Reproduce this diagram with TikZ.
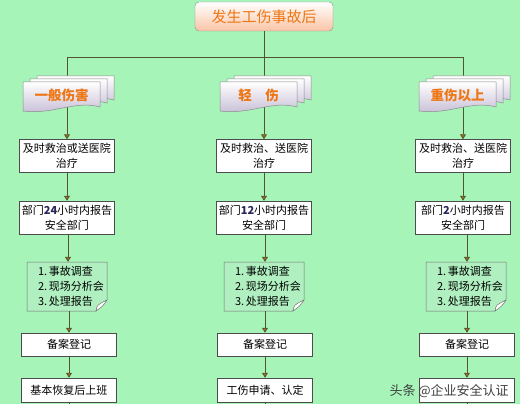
\documentclass[tikz,border=0pt]{standalone}
\usepackage{fontspec}
\newfontfamily\cjk{Noto Sans CJK SC}
\usetikzlibrary{arrows.meta}
\definecolor{bg}{RGB}{166,244,184}
\definecolor{ln}{RGB}{85,85,45}
\definecolor{tipc}{RGB}{160,110,30}
\definecolor{otxt}{RGB}{238,118,20}
\definecolor{peach}{RGB}{250,196,165}
\definecolor{lav}{RGB}{196,186,212}
\definecolor{notefill}{RGB}{176,240,192}
\definecolor{numc}{RGB}{40,40,90}
\newcommand\catpage[4]{% xl, xr, yt, yb
  \path[page] (#1,#3) -- (#2,#3) -- (#2,#4-4) .. controls (#2-25,#4-11) and (#1+30,#4+4) .. (#1,#4) -- cycle;}
\begin{document}
\begin{tikzpicture}[x=1pt,y=-1pt,
  conn/.style={draw=ln,line width=0.8pt},
  arr/.style={conn,-{Triangle[width=6pt,length=5pt,fill=tipc]}},
  box/.style={draw=black!70,fill=white,line width=0.5pt,minimum width=95pt,minimum height=33pt,align=center,inner sep=1pt,font=\cjk\fontsize{11}{15}\selectfont},
  sbox/.style={box,minimum height=24pt},
  notetxt/.style={minimum width=80pt,minimum height=49pt,align=left,inner sep=0pt,font=\cjk\fontsize{11}{15}\selectfont},
  page/.style={draw=black!45,line width=0.5pt,top color=white,bottom color=lav},
  cattxt/.style={text=otxt,font=\cjk\bfseries\fontsize{13.5}{15}\selectfont,inner sep=0pt,minimum width=77pt,minimum height=26pt}
]
\useasboundingbox (0,0) rectangle (520,404);
\fill[bg] (0,0) rectangle (520,404);

% top box
\node[draw=black!45,rounded corners=4pt,top color=white,bottom color=peach,minimum width=138pt,minimum height=29pt,text=otxt,font=\cjk\fontsize{15}{17}\selectfont] (top) at (264,16.5) {发生工伤事故后};

\coordinate (jc) at (264,57);
\coordinate (jl) at (67,57);
\coordinate (jr) at (463,57);
\draw[conn] (top.south) -- (jc);
\draw[conn] (jl) -- (jr);

% category boxes (three pages each)
\foreach \cx/\nm/\tx in {67/catl/{一般伤害},264/catm/{轻\hspace{1em}伤},463/catr/{重伤以上}}{
  \draw[conn] (\cx,57) -- (\cx,120);
  \catpage{\cx-30}{\cx+47}{76}{104}
  \catpage{\cx-37}{\cx+40}{79}{107}
  \catpage{\cx-44}{\cx+33}{82}{111}
  \node[cattxt] (\nm) at (\cx-5.5,95) {\tx};
}

% row 1
\node[box] (l1) at (67,156) {及时救治或送医院\\治疗};
\node[box] (m1) at (264,156) {及时救治、送医院\\治疗};
\node[box] (r1) at (463,156) {及时救治、送医院\\治疗};
% row 2
\node[box] (l2) at (67,217.5) {部门{\bfseries\color{numc}24}小时内报告\\安全部门};
\node[box] (m2) at (264,217.5) {部门{\bfseries\color{numc}12}小时内报告\\安全部门};
\node[box] (r2) at (463,217.5) {部门{\bfseries\color{numc}2}小时内报告\\安全部门};
% row 3 notes
\foreach \nm/\cx in {l3/67,m3/264,r3/466}{
  \path[draw=black!55,fill=notefill,line width=0.5pt] (\cx-40,262) -- (\cx+40,262) -- (\cx+40,300) -- (\cx+29,311) -- (\cx-40,311) -- cycle;
  \path[draw=black!55,fill=white,line width=0.5pt] (\cx+40,300) .. controls (\cx+36,306) .. (\cx+29,311) .. controls (\cx+30,305) .. (\cx+40,300);
  \node[notetxt] (\nm) at (\cx+1,286.5) {\hspace*{6pt}1.\,事故调查\\\hspace*{6pt}2.\,现场分析会\\\hspace*{6pt}3.\,处理报告};
}
% row 4
\node[sbox,minimum height=23pt] (l4) at (69,344.5) {备案登记};
\node[sbox,minimum height=23pt] (m4) at (265,344.5) {备案登记};
\node[sbox,minimum height=23pt] (r4) at (467,344.5) {备案登记};
% row 5
\node[sbox] (l5) at (69,390) {基本恢复后上班};
\node[sbox] (m5) at (265,390) {工伤申请、认定};
\node[sbox] (r5) at (467,390) {};

% arrows
\foreach \a/\b in {l1/l2,m1/m2,r1/r2}{
  \draw[arr] (\a.south) -- (\a.south |- \b.north);}
\draw[arr] (67,111) -- (l1.north);
\draw[arr] (264,111) -- (m1.north);
\draw[arr] (463,111) -- (r1.north);
\foreach \a/\b in {l2/l3,m2/m3,r2/r3,l3/l4,m3/m4,r3/r4,l4/l5,m4/m5,r4/r5}{
  \draw[arr] (\b.north |- \a.south) -- (\b.north);}
\draw[conn] (l5.south) -- (69,404);
\draw[conn] (m5.south) -- (265,404);
\draw[conn] (r5.south) -- (467,404);

% watermark
\node[text=black!75,font=\cjk\fontsize{13}{15}\selectfont,anchor=west] (wm) at (386,391) {头条 @企业安全认证};
\end{tikzpicture}
\end{document}
